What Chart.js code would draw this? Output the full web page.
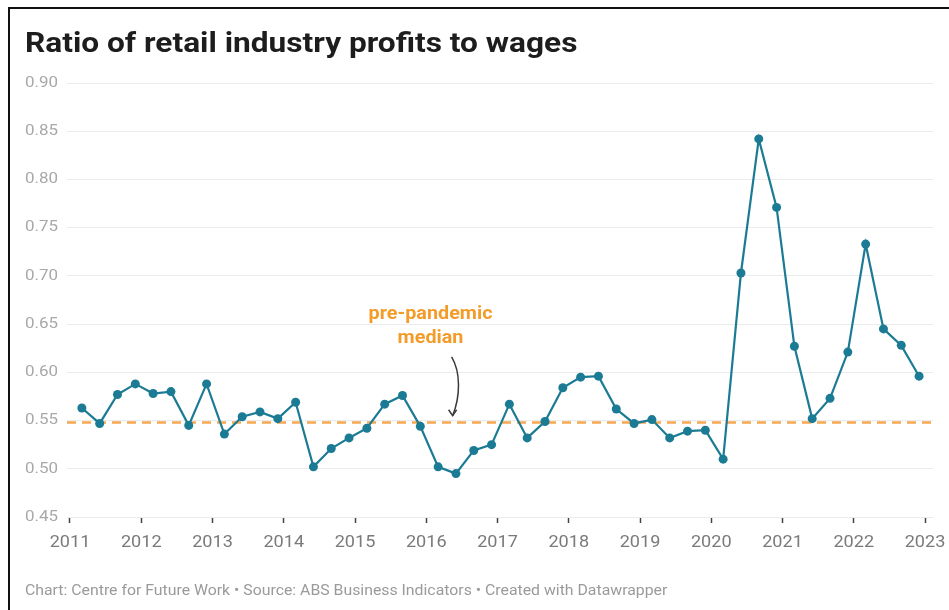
<!DOCTYPE html>
<html>
<head>
<meta charset="utf-8">
<title>Ratio of retail industry profits to wages</title>
<script src="https://cdn.jsdelivr.net/npm/chart.js@4.4.1/dist/chart.umd.min.js"></script>
<style>
  html, body { margin: 0; padding: 0; background: #fff; }
  #wrap { position: relative; width: 949px; height: 610px; }
</style>
</head>
<body>
<div id="wrap"><canvas id="chart" width="949" height="610"></canvas></div>
<script>
// quarter ends, ABS business indicators
const periods = [
  '2011-03', '2011-06', '2011-09', '2011-12',
  '2012-03', '2012-06', '2012-09', '2012-12',
  '2013-03', '2013-06', '2013-09', '2013-12',
  '2014-03', '2014-06', '2014-09', '2014-12',
  '2015-03', '2015-06', '2015-09', '2015-12',
  '2016-03', '2016-06', '2016-09', '2016-12',
  '2017-03', '2017-06', '2017-09', '2017-12',
  '2018-03', '2018-06', '2018-09', '2018-12',
  '2019-03', '2019-06', '2019-09', '2019-12',
  '2020-03', '2020-06', '2020-09', '2020-12',
  '2021-03', '2021-06', '2021-09', '2021-12',
  '2022-03', '2022-06', '2022-09', '2022-12'
];
const ratio = [
  0.563, 0.547, 0.577, 0.588,
  0.578, 0.580, 0.545, 0.588,
  0.536, 0.554, 0.559, 0.552,
  0.569, 0.502, 0.521, 0.532,
  0.542, 0.567, 0.576, 0.544,
  0.502, 0.495, 0.519, 0.525,
  0.567, 0.532, 0.549, 0.584,
  0.595, 0.596, 0.562, 0.547,
  0.551, 0.532, 0.539, 0.540,
  0.510, 0.703, 0.842, 0.771,
  0.627, 0.552, 0.573, 0.621,
  0.733, 0.645, 0.628, 0.596
];
const preMedian = 0.548;
const yearTicks = [2011, 2012, 2013, 2014, 2015, 2016, 2017, 2018, 2019, 2020, 2021, 2022, 2023];
const yTicks = [0.45, 0.50, 0.55, 0.60, 0.65, 0.70, 0.75, 0.80, 0.85, 0.90];

const X_MIN = 2010.958, X_MAX = 2023.112;
const TEAL = '#1b7b94';
const ORANGE = '#f49c2a';
const WIDEN = 1.13; // Datawrapper type sits a little wider than plain Roboto

// '2011-03' -> fractional year at the start of that month
const toYear = p => {
  const [y, m] = p.split('-').map(Number);
  return y + (m - 1) / 12;
};
const points = periods.map((p, i) => ({ x: toYear(p), y: ratio[i] }));

function wideText(c, text, x, y, align) {
  c.save();
  c.translate(x, y);
  c.scale(WIDEN, 1);
  c.textAlign = align;
  c.fillText(text, 0, 0);
  c.restore();
}

const frame = {
  id: 'frame',
  beforeDraw(chart) {
    const c = chart.ctx;
    c.save();
    c.fillStyle = '#fff';
    c.fillRect(0, 0, chart.width, chart.height);
    c.strokeStyle = '#111';
    c.lineWidth = 2;
    c.beginPath();
    c.moveTo(9, chart.height);
    c.lineTo(9, 8);
    c.lineTo(chart.width, 8);
    c.stroke();
    c.restore();
  },
  afterDraw(chart) {
    const c = chart.ctx;
    c.save();
    c.textBaseline = 'alphabetic';
    c.fillStyle = '#1d1d1d';
    c.font = 'bold 28px Roboto';
    wideText(c, 'Ratio of retail industry profits to wages', 25, 52, 'left');
    c.fillStyle = '#9a9a9a';
    c.font = '14px Roboto';
    wideText(c, 'Chart: Centre for Future Work \u2022 Source: ABS Business Indicators \u2022 Created with Datawrapper', 25, 595, 'left');
    c.restore();
  }
};

// axis labels, drawn at the scale positions
const axisLabels = {
  id: 'axisLabels',
  afterDraw(chart) {
    const xs = chart.scales.x, ys = chart.scales.y;
    const c = chart.ctx;
    c.save();
    c.textBaseline = 'middle';
    c.fillStyle = '#a8a8a8';
    c.font = '15px Roboto';
    yTicks.forEach(v => wideText(c, v.toFixed(2), 25, ys.getPixelForValue(v), 'left'));
    c.fillStyle = '#7a7a7a';
    c.font = '16px Roboto';
    yearTicks.forEach(v => wideText(c, String(v), xs.getPixelForValue(v), 543, 'center'));
    c.restore();
  }
};

// label and arrow pointing at the pre-pandemic median line
const medianNote = {
  id: 'medianNote',
  afterDatasetsDraw(chart) {
    const xs = chart.scales.x, ys = chart.scales.y;
    const c = chart.ctx;
    c.save();
    c.fillStyle = ORANGE;
    c.font = 'bold 17.5px Roboto';
    c.textBaseline = 'middle';
    const tx = xs.getPixelForValue(2016.06);
    wideText(c, 'pre-pandemic', tx, ys.getPixelForValue(0.660), 'center');
    wideText(c, 'median', tx, ys.getPixelForValue(0.635), 'center');

    const ax = xs.getPixelForValue(2016.37);
    const y0 = ys.getPixelForValue(0.616);
    const y1 = ys.getPixelForValue(0.555);
    c.strokeStyle = '#3a3a3a';
    c.lineWidth = 1.5;
    c.beginPath();
    c.moveTo(ax - 1, y0);
    c.bezierCurveTo(ax + 8, y0 + 15, ax + 8, y1 - 20, ax, y1);
    c.stroke();
    c.beginPath();
    c.moveTo(ax - 4, y1 - 6);
    c.lineTo(ax, y1);
    c.lineTo(ax + 4, y1 - 6);
    c.stroke();
    c.restore();
  }
};

new Chart(document.getElementById('chart'), {
  type: 'line',
  data: {
    datasets: [
      {
        label: 'Ratio of profits to wages',
        data: points,
        borderColor: TEAL,
        backgroundColor: TEAL,
        borderWidth: 2.2,
        pointRadius: 4.5,
        pointBorderWidth: 0,
        pointBackgroundColor: TEAL,
        tension: 0,
        order: 1
      },
      {
        label: 'pre-pandemic median',
        data: [{ x: X_MIN, y: preMedian }, { x: X_MAX, y: preMedian }],
        borderColor: '#f6a752',
        borderWidth: 2.5,
        borderDash: [9, 6],
        pointRadius: 0,
        order: 2
      }
    ]
  },
  options: {
    responsive: false,
    animation: false,
    layout: { padding: { top: 83, left: 25, right: 16, bottom: 87 } },
    plugins: {
      legend: { display: false },
      tooltip: { enabled: false }
    },
    scales: {
      x: {
        type: 'linear',
        min: X_MIN,
        max: X_MAX,
        afterBuildTicks: s => { s.ticks = yearTicks.map(v => ({ value: v })); },
        border: { display: false },
        grid: {
          drawOnChartArea: false,
          drawTicks: true,
          tickLength: 6,
          tickColor: '#444',
          tickWidth: 1.5
        },
        ticks: { display: false }
      },
      y: {
        min: 0.45,
        max: 0.90,
        afterBuildTicks: s => { s.ticks = yTicks.map(v => ({ value: v })); },
        afterFit: s => { s.width = 42; },
        border: { display: false },
        grid: {
          color: '#ebebeb',
          lineWidth: 1,
          drawTicks: false
        },
        ticks: { display: false }
      }
    }
  },
  plugins: [frame, axisLabels, medianNote]
});
</script>
</body>
</html>
